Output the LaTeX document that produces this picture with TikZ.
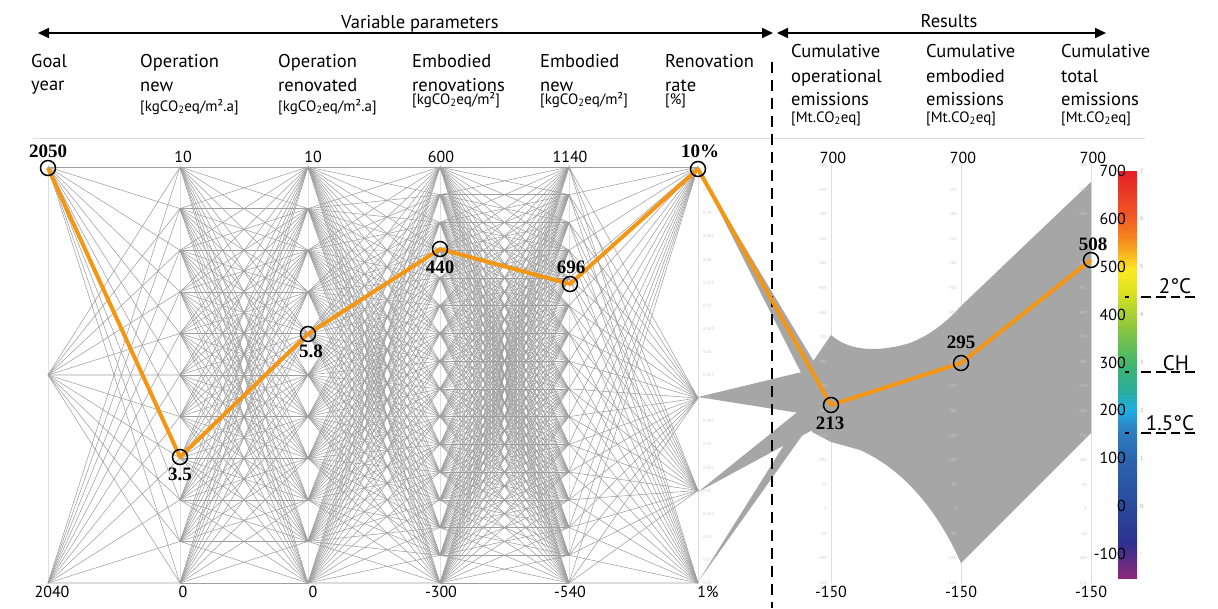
\documentclass[tikz,border=0pt]{standalone}
\usepackage{fontspec}
\setmainfont{PT Sans}
\newfontfamily\valfont{Liberation Serif}
\usetikzlibrary{arrows.meta}

\definecolor{webgray}{RGB}{158,158,158}
\definecolor{blobgray}{RGB}{167,166,167}
\definecolor{axisgray}{RGB}{222,222,222}
\definecolor{pathorange}{RGB}{243,150,20}
\definecolor{cb0}{RGB}{226,31,38}
\definecolor{cb1}{RGB}{241,90,36}
\definecolor{cb2}{RGB}{247,147,30}
\definecolor{cb3}{RGB}{252,234,33}
\definecolor{cb4}{RGB}{217,224,33}
\definecolor{cb5}{RGB}{140,198,63}
\definecolor{cb6}{RGB}{58,181,114}
\definecolor{cb7}{RGB}{41,171,164}
\definecolor{cb8}{RGB}{31,175,228}
\definecolor{cb9}{RGB}{46,131,197}
\definecolor{cb10}{RGB}{43,99,174}
\definecolor{cb11}{RGB}{41,71,155}
\definecolor{cb12}{RGB}{46,49,146}
\definecolor{cb13}{RGB}{142,40,120}

\tikzset{
  web/.style={webgray, line width=0.55pt},
  blob/.style={fill=blobgray, draw=none},
  axisline/.style={axisgray, line width=1pt},
  ring/.style={circle, draw=black, line width=1.5pt, minimum size=15pt, inner sep=0pt},
  pathline/.style={pathorange, line width=4pt, line join=round},
  head/.style={anchor=base west, inner sep=0pt, font=\fontsize{18.5}{20}\selectfont},
  unit/.style={anchor=base west, inner sep=0pt, font=\fontsize{15}{16}\selectfont},
  num/.style={anchor=base, inner sep=0pt, font=\fontsize{16}{18}\selectfont},
  val/.style={anchor=base, inner sep=0pt, font=\valfont\bfseries\fontsize{19}{21}\selectfont},
  tinylab/.style={inner sep=0pt, font=\fontsize{4.5}{5}\selectfont, text=black!20},
  cbarlab/.style={anchor=east, inner sep=0pt, font=\fontsize{16}{18}\selectfont},
  templab/.style={anchor=base, inner sep=0pt, font=\fontsize{21}{24}\selectfont},
  limitline/.style={line width=1.5pt, dash pattern=on 4pt off 12pt on 10pt off 5pt on 10pt off 5pt on 9pt off 5pt on 10pt},
  span/.style={line width=1.8pt, {Triangle[length=11pt,width=10pt]}-{Triangle[length=11pt,width=10pt]}},
  sepline/.style={line width=1.5pt, dash pattern=on 11pt off 7pt},
}

\begin{document}
\begin{tikzpicture}[x=1pt, y=-1pt]
	\useasboundingbox (0,0) rectangle (1218,608);
	%\draw[help lines, step=50] (0,0) grid (1218,608);

	% header rule and axes
	\draw[axisgray, line width=1pt] (33,138) -- (1145,138);
	\foreach \x in {48,180,308,440,569,698,831,961,1091}
		\draw[axisline] (\x,165) -- (\x,583);

	% web of the variable parameters
	\foreach \i in {0,...,2}
		\foreach \j in {0,...,10}
			\draw[web] (48,{167+208*\i}) -- (180,{167+41.6*\j});
	\foreach \i in {0,...,10}
		\foreach \j in {0,...,10}
			\draw[web] (180,{167+41.6*\i}) -- (308,{167+41.6*\j});
	\foreach \i in {0,...,10}
		\foreach \j in {0,...,15}
			\draw[web] (308,{167+41.6*\i}) -- (440,{167+27.733*\j});
	\foreach \i in {0,...,15}
		\foreach \j in {0,...,15}
			\draw[web] (440,{167+27.733*\i}) -- (569,{167+27.733*\j});
	\foreach \i in {0,...,15}
		\foreach \y in {167,398,490.5,583}
			\draw[web] (569,{167+27.733*\i}) -- (698,\y);

	% results
	\fill[blob] (698,169) -- (831,390) -- (831,432) -- cycle;
	\fill[blob] (698,397) -- (831,365) -- (831,418) -- cycle;
	\fill[blob] (698,492) -- (831,385) -- (831,420) -- cycle;
	\fill[blob] (698,582) -- (831,370) -- (831,395) -- cycle;
	\fill[blob] (805,373) -- (831,335) .. controls (850,352) and (880,352) .. (910,343)
		.. controls (935,333) and (950,318) .. (961,306) -- (1091,182) -- (1091,433)
		-- (961,563) .. controls (935,505) and (900,468) .. (860,450) -- (831,442) -- (812,432) -- cycle;

	% small tick labels
	\foreach \v [count=\k from 0] in {0.1,0.095,0.09,0.085,0.08,0.075,0.07,0.065,0.06,0.055,0.05,0.045,0.04,0.035,0.03,0.025,0.02,0.015,0.01}
		\node[tinylab, anchor=west] (rr\k) at (703,{167+\k*416/18}) {\v};
	\foreach \x in {831,961,1091}
		\foreach \v in {700,650,...,-150}
			\node[tinylab, anchor=east] (t\x\v) at (\x-4,{583-(\v+150)*0.4918}) {\v};

	\draw[sepline] (772,62) coordinate (sepT) -- (772,608) coordinate (sepB);

	% selected solution
	\coordinate (p1) at (48,168);
	\coordinate (p2) at (180,457);
	\coordinate (p3) at (308,334);
	\coordinate (p4) at (440,249);
	\coordinate (p5) at (570,284);
	\coordinate (p6) at (698,169);
	\coordinate (p7) at (831,405);
	\coordinate (p8) at (961,363);
	\coordinate (p9) at (1091,260);
	\draw[pathline] (p1) -- (p2) -- (p3) -- (p4) -- (p5) -- (p6) -- (p7) -- (p8) -- (p9);
	\foreach \p in {1,...,9}
		\node[ring] (r\p) at (p\p) {};

	\node[val] (v1) at (48,157) {2050};
	\node[val] (v2) at (180,480) {3.5};
	\node[val] (v3) at (311,357) {5.8};
	\node[val] (v4) at (440,273) {440};
	\node[val] (v5) at (571,273) {696};
	\node[val] (v6) at (700,157) {10\%};
	\node[val] (v7) at (830,429) {213};
	\node[val] (v8) at (961,348) {295};
	\node[val] (v9) at (1093,250) {508};

	% axis ends
	\node[num] (top2) at (183,162) {10};
	\node[num] (top3) at (313,162) {10};
	\node[num] (top4) at (441,162) {600};
	\node[num] (top5) at (570,162) {1140};
	\node[num] (top7) at (833,163) {700};
	\node[num] (top8) at (963,163) {700};
	\node[num] (top9) at (1093,163) {700};
	\node[num] (bot1) at (52,597) {2040};
	\node[num] (bot2) at (183,597) {0};
	\node[num] (bot3) at (313,597) {0};
	\node[num] (bot4) at (441,597) {-300};
	\node[num] (bot5) at (570,597) {-540};
	\node[num] (bot6) at (708,597) {1\%};
	\node[num] (bot7) at (831,597) {-150};
	\node[num] (bot8) at (961,597) {-150};
	\node[num] (bot9) at (1091,597) {-150};

	% headers
	\draw[span] (38,33) coordinate (varL) -- (773,33) coordinate (varR);
	\draw[span] (777,33) coordinate (resL) -- (1106,33) coordinate (resR);
	\node[anchor=base, inner sep=0pt, font=\fontsize{18.5}{20}\selectfont] (varT) at (420,28) {Variable parameters};
	\node[anchor=base, inner sep=0pt, font=\fontsize{18.5}{20}\selectfont] (resT) at (949,27) {Results};

	\node[head] (h1a) at (31,67) {Goal};
	\node[head] (h1b) at (31,90) {year};
	\node[head] (h2a) at (140,67) {Operation};
	\node[head] (h2b) at (140,91) {new};
	\node[unit] (h2c) at (140,111) {[kgCO\textsubscript{2}eq/m².a]};
	\node[head] (h3a) at (278,67) {Operation};
	\node[head] (h3b) at (278,91) {renovated};
	\node[unit] (h3c) at (278,111) {[kgCO\textsubscript{2}eq/m².a]};
	\node[head] (h4a) at (412,67) {Embodied};
	\node[head] (h4b) at (412,91) {renovations};
	\node[unit] (h4c) at (412,104) {[kgCO\textsubscript{2}eq/m²]};
	\node[head] (h5a) at (540,67) {Embodied};
	\node[head] (h5b) at (540,91) {new};
	\node[unit] (h5c) at (540,104) {[kgCO\textsubscript{2}eq/m²]};
	\node[head] (h6a) at (665,67) {Renovation};
	\node[head] (h6b) at (665,91) {rate};
	\node[unit] (h6c) at (665,104) {[\%]};
	\node[head] (h7a) at (791,57) {Cumulative};
	\node[head] (h7b) at (791,82) {operational};
	\node[head] (h7c) at (791,105) {emissions};
	\node[unit] (h7d) at (791,122) {[Mt.CO\textsubscript{2}eq]};
	\node[head] (h8a) at (926,57) {Cumulative};
	\node[head] (h8b) at (926,82) {embodied};
	\node[head] (h8c) at (926,105) {emissions};
	\node[unit] (h8d) at (926,122) {[Mt.CO\textsubscript{2}eq]};
	\node[head] (h9a) at (1061,57) {Cumulative};
	\node[head] (h9b) at (1061,82) {total};
	\node[head] (h9c) at (1061,105) {emissions};
	\node[unit] (h9d) at (1061,122) {[Mt.CO\textsubscript{2}eq]};

	% colour bar
	\foreach \ya/\yb/\ca/\cb in {171/217/cb0/cb1, 217/243/cb1/cb2, 243/270/cb2/cb3, 270/293/cb3/cb4,
		293/327/cb4/cb5, 327/367/cb5/cb6, 367/393/cb6/cb7, 393/410/cb7/cb8, 410/427/cb8/cb9,
		427/460/cb9/cb10, 460/510/cb10/cb11, 510/543/cb11/cb12, 543/578/cb12/cb13}
		\shade[top color=\ca, bottom color=\cb] (1118,\ya) rectangle (1137,\yb+0.5);
	\foreach \v in {700,600,...,-100}
		\node[cbarlab] (c\v) at (1126,{171+(700-\v)*0.4786}) {\v};
	\foreach \v [count=\k from 0] in {7,6,5,4,3,2,1,0,-}
		\node[tinylab, anchor=west, font=\fontsize{6}{7}\selectfont, text=black!35] (cr\k) at (1140,{171+\k*47.86}) {\v};

	\draw[limitline] (1125,297) coordinate (twoL) -- (1195,297) coordinate (twoR);
	\draw[limitline] (1125,372) coordinate (chL) -- (1195,372) coordinate (chR);
	\draw[limitline] (1125,433) coordinate (oneL) -- (1195,433) coordinate (oneR);
	\node[templab] (two) at (1175,293) {2°C};
	\node[templab] (ch) at (1176,370) {CH};
	\node[templab] (one) at (1170,430) {1.5°C};
\end{tikzpicture}
\end{document}
